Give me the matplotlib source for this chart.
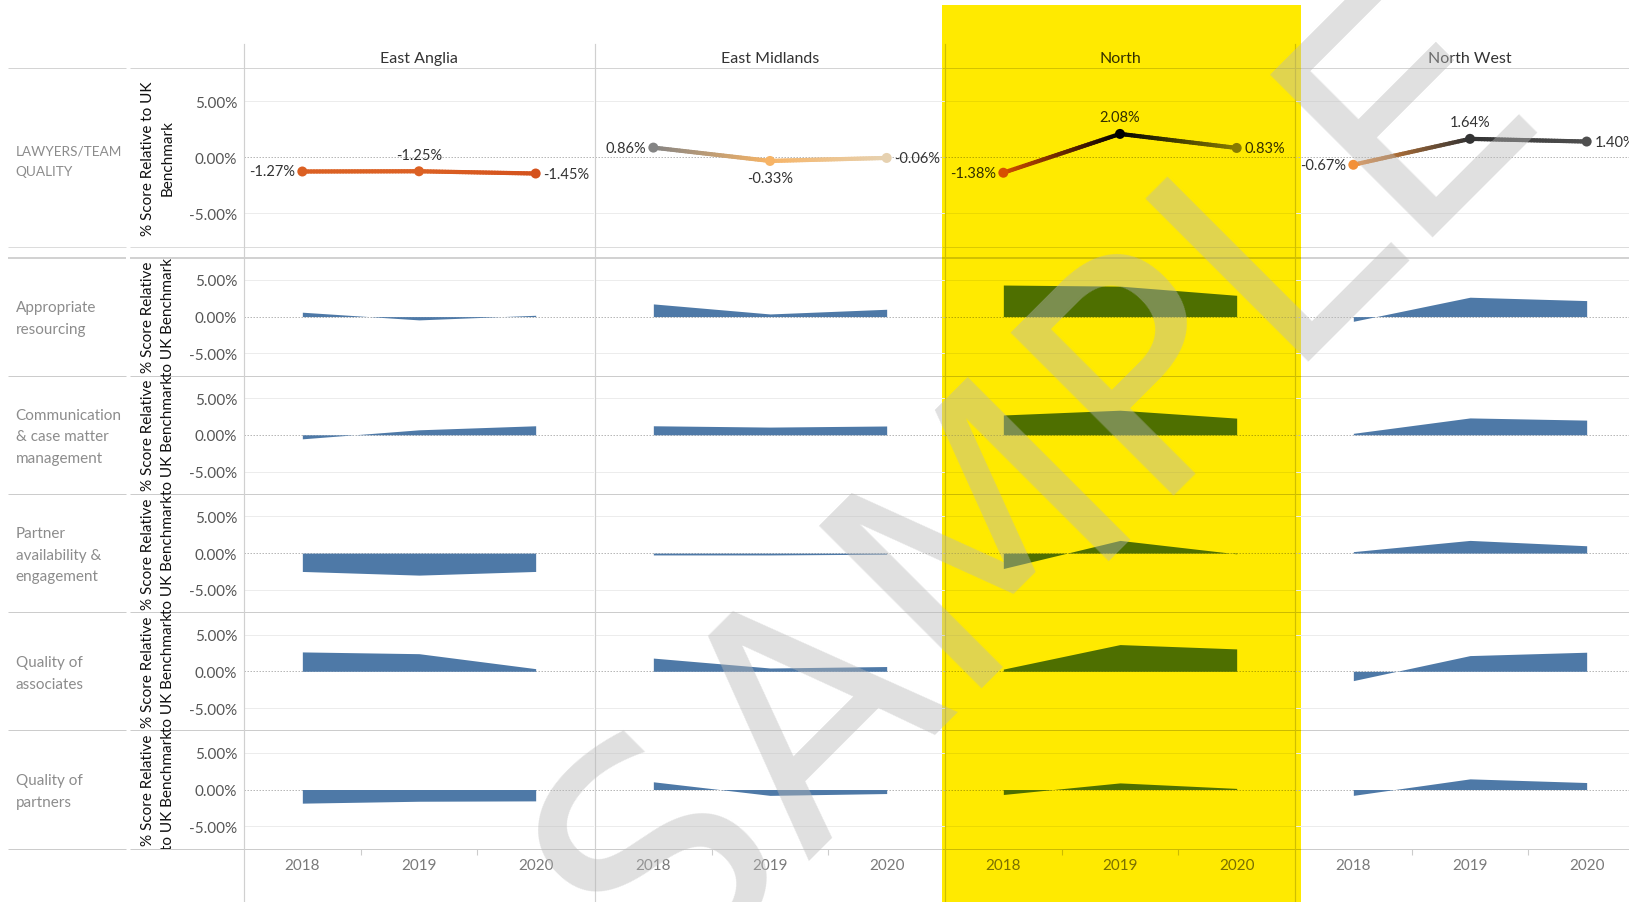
import numpy as np
import matplotlib
matplotlib.use("Agg")
import matplotlib.pyplot as plt
from matplotlib.lines import Line2D
from matplotlib.patches import Rectangle
from matplotlib.collections import LineCollection
from matplotlib.colors import LinearSegmentedColormap, Normalize, to_rgb
from matplotlib.transforms import Bbox, TransformedBbox

# ---------------- data ----------------
regions = ["East Anglia", "East Midlands", "North", "North West"]
years = ["2018", "2019", "2020"]
top_measure = "LAWYERS/TEAM\nQUALITY"
area_measures = ["Appropriate\nresourcing", "Communication\n& case matter\nmanagement",
                 "Partner\navailability &\nengagement", "Quality of\nassociates", "Quality of\npartners"]

team_quality = [[-1.27, -1.25, -1.45], [0.86, -0.33, -0.06], [-1.38, 2.08, 0.83], [-0.67, 1.64, 1.40]]
appropriate_resourcing = [[0.6, -0.45, 0.18], [1.73, 0.36, 1.0], [4.3, 4.15, 2.9], [-0.64, 2.64, 2.18]]
communication = [[-0.55, 0.68, 1.23], [1.23, 1.05, 1.2], [2.7, 3.35, 2.27], [0.2, 2.3, 2.0]]
partner_availability = [[-2.5, -3.0, -2.5], [-0.25, -0.25, -0.15], [-2.1, 1.73, -0.1], [0.2, 1.73, 1.0]]
quality_associates = [[2.64, 2.4, 0.36], [1.8, 0.45, 0.65], [0.3, 3.64, 3.05], [-1.27, 2.14, 2.6]]
quality_partners = [[-1.86, -1.6, -1.55], [1.05, -0.8, -0.55], [-0.68, 0.9, 0.15], [-0.8, 1.45, 0.95]]
area_series = [appropriate_resourcing, communication, partner_availability, quality_associates, quality_partners]
y_ticks = [-5, 0, 5]
highlight_region = "North"

# ---------------- style ----------------
W, H = 1629, 903
plt.rcParams['font.family'] = ['Lato', 'DejaVu Sans']
fig = plt.figure(figsize=(W / 100, H / 100), dpi=100)
fig.patch.set_facecolor('white')

YEL = (1.0, 234 / 255, 0.0)
YX0, YX1 = 941.5, 1301.0
BLUE = '#4e79a7'
PX = 0.72  # points per pixel


def mult(c):
    r = to_rgb(c)
    return tuple(a * b for a, b in zip(r, YEL))


def fx(x):
    return x / W


def fy(y):
    return 1 - y / H


def hline(y, x0, x1, color, lw):
    pts = sorted(set([x0, x1] + [v for v in (YX0, YX1) if x0 < v < x1]))
    for a, b in zip(pts[:-1], pts[1:]):
        inside = YX0 <= (a + b) / 2 <= YX1
        c = mult(color) if inside else color
        fig.add_artist(Line2D([fx(a), fx(b)], [fy(y), fy(y)], color=c, lw=lw * PX,
                              transform=fig.transFigure, zorder=2, solid_capstyle='butt'))


def vline(x, y0, y1, color, lw):
    c = mult(color) if YX0 <= x <= YX1 else color
    fig.add_artist(Line2D([fx(x), fx(x)], [fy(y0), fy(y1)], color=c, lw=lw * PX,
                          transform=fig.transFigure, zorder=2))


# yellow highlight
fig.add_artist(Rectangle((fx(YX0), fy(903)), (YX1 - YX0) / W, (903 - 6) / H,
                         transform=fig.transFigure, facecolor=YEL, edgecolor='none', zorder=-5))

# layout
col_x = [244, 595, 945, 1295]
col_w = 350
top_y0, top_h = 68.5, 179.5
row_tops = [258.5, 376.7, 495.0, 613.2, 731.4]
row_h = 118.2
xs = np.array([0.5, 1.5, 2.5])

# colour scale for line chart (diverging orange -> beige -> grey -> black)
stops = [(-1.45, '#d4521d'), (-0.67, '#f39038'), (-0.33, '#f7b466'), (-0.06, '#e6d2b2'),
         (0.85, '#858585'), (1.5, '#454545'), (2.08, '#000000')]
vmin, vmax = stops[0][0], stops[-1][0]
cmap = LinearSegmentedColormap.from_list('ob', [((v - vmin) / (vmax - vmin), c) for v, c in stops])
norm = Normalize(vmin, vmax)

# grid lines (figure-level)
hline(68.5, 8, 126, '#d4d4d4', 1)
hline(68.5, 130, W, '#d4d4d4', 1)
hline(248, 8, 126, '#dcdcdc', 1)
hline(248, 130, W, '#dcdcdc', 1)
hline(258.5, 8, 126, '#d2d2d2', 2)
hline(258.5, 130, W, '#d2d2d2', 2)
for yb in row_tops[1:] + [row_tops[-1] + row_h]:
    hline(yb, 8, 126, '#cccccc', 1)
    hline(yb, 130, W, '#cccccc', 1)
for x in col_x:
    vline(x, 45, 903, '#d0d0d0', 1.2)

FS = 11


def make_ax(x0, y0, w, h, ylim):
    ax = fig.add_axes([fx(x0), fy(y0 + h), w / W, h / H])
    ax.set_facecolor('none')
    for s in ax.spines.values():
        s.set_visible(False)
    ax.set_xlim(0, 3)
    ax.set_ylim(-ylim, ylim)
    ax.set_xticks([])
    ax.set_yticks([])
    ax.tick_params(length=0)
    return ax


def decorate(ax, col, hl):
    gc = mult('#ececec') if hl else '#ececec'
    zc = mult('#b8b8b8') if hl else '#b8b8b8'
    for t in y_ticks:
        if t != 0:
            ax.axhline(t, color=gc, lw=1 * PX, zorder=0)
    ax.axhline(0, color=zc, lw=1 * PX, ls=(0, (1.5, 1.5)), zorder=0)
    if col == 0:
        ax.set_yticks(y_ticks, [f"{t:.2f}%" for t in y_ticks])
        ax.tick_params(axis='y', length=0, pad=5, labelsize=FS, labelcolor='#555555')


# ---------------- top row: line chart ----------------
for c, region in enumerate(regions):
    hl = region == highlight_region
    ax = make_ax(col_x[c], top_y0, col_w, top_h, 8.0)
    decorate(ax, c, hl)
    vals = np.array(team_quality[c])
    cols = [np.array(cmap(norm(v))[:3]) for v in vals]
    if hl:
        cols = [np.array(mult(cc)) for cc in cols]
    segs, scols = [], []
    for i in range(len(xs) - 1):
        t = np.linspace(0, 1, 41)
        px = xs[i] + (xs[i + 1] - xs[i]) * t
        py = vals[i] + (vals[i + 1] - vals[i]) * t
        for k in range(len(t) - 1):
            segs.append([(px[k], py[k]), (px[k + 1], py[k + 1])])
            tm = (t[k] + t[k + 1]) / 2
            scols.append(cols[i] * (1 - tm) + cols[i + 1] * tm)
    ax.add_collection(LineCollection(segs, colors=scols, linewidths=4.2 * PX, capstyle='round', zorder=3))
    ax.scatter(xs, vals, s=(10 * PX) ** 2, c=cols, zorder=4, linewidths=0)
    tc = mult('#333333') if hl else '#333333'
    for i, v in enumerate(vals):
        lab = f"{v:.2f}%"
        if i == 0:
            ax.annotate(lab, (xs[i], v), xytext=(-5.5, 0), textcoords='offset points', ha='right',
                        va='center', fontsize=10.5, color=tc, annotation_clip=False)
        elif i == len(vals) - 1:
            ax.annotate(lab, (xs[i], v), xytext=(5.5, 0), textcoords='offset points', ha='left',
                        va='center', fontsize=10.5, color=tc, annotation_clip=False)
        else:
            above = v >= max(vals[0], vals[-1])
            ax.annotate(lab, (xs[i], v), xytext=(0, 7 if above else -7), textcoords='offset points',
                        ha='center', va='bottom' if above else 'top', fontsize=10.5, color=tc,
                        annotation_clip=False)

# ---------------- area rows ----------------
for r, series in enumerate(area_series):
    for c, region in enumerate(regions):
        hl = region == highlight_region
        ax = make_ax(col_x[c], row_tops[r], col_w, row_h, 8.05)
        decorate(ax, c, hl)
        vals = np.array(series[c])
        ax.fill_between(xs, 0, vals, color=mult(BLUE) if hl else BLUE, lw=0, zorder=3)
        if r == len(area_series) - 1:
            lc = mult('#7a7a7a') if hl else '#7a7a7a'
            ax.set_xticks(xs, years)
            ax.tick_params(axis='x', length=0, pad=7, labelsize=FS, labelcolor=lc)
            ax.set_xticks([1, 2], minor=True)
            ax.tick_params(axis='x', which='minor', length=4, width=0.8,
                           color=mult('#cccccc') if hl else '#cccccc')

# ---------------- headers & labels ----------------
for c, region in enumerate(regions):
    hl = region == highlight_region
    fig.text(fx(col_x[c] + col_w / 2), fy(59), region, ha='center', va='center', fontsize=11.5,
             color=mult('#333333') if hl else '#333333')

fig.text(fx(15.5), fy(top_y0 + top_h / 2 + 3), top_measure, ha='left', va='center', fontsize=9.8,
         color='#8c8c8c', linespacing=1.85)
fig.text(fx(158), fy(top_y0 + top_h / 2), "% Score Relative to UK\nBenchmark", rotation=90,
         ha='center', va='center', fontsize=FS, color='#111111', linespacing=1.55)

clip = TransformedBbox(Bbox([[0, fy(row_tops[-1] + row_h)], [1, fy(row_tops[0])]]), fig.transFigure)
for r, name in enumerate(area_measures):
    cy = row_tops[r] + row_h / 2
    fig.text(fx(15.5), fy(cy + 1.5), name, ha='left', va='center', fontsize=FS, color='#8c8c8c',
             linespacing=1.7)
    t = fig.text(fx(158), fy(cy), "% Score Relative\nto UK Benchmark", rotation=90,
                 ha='center', va='center', fontsize=FS, color='#111111', linespacing=1.55)
    t.set_clip_box(clip)
    t.set_clip_on(True)

# ---------------- watermark ----------------
fig.text(fx(1101), fy(548), "SAMPLE", fontsize=227, rotation=45, rotation_mode='anchor',
         ha='center', va='baseline', color='#b8b8b8', alpha=0.435, family='DejaVu Sans', zorder=20)

fig.savefig("out.png", dpi=100)
